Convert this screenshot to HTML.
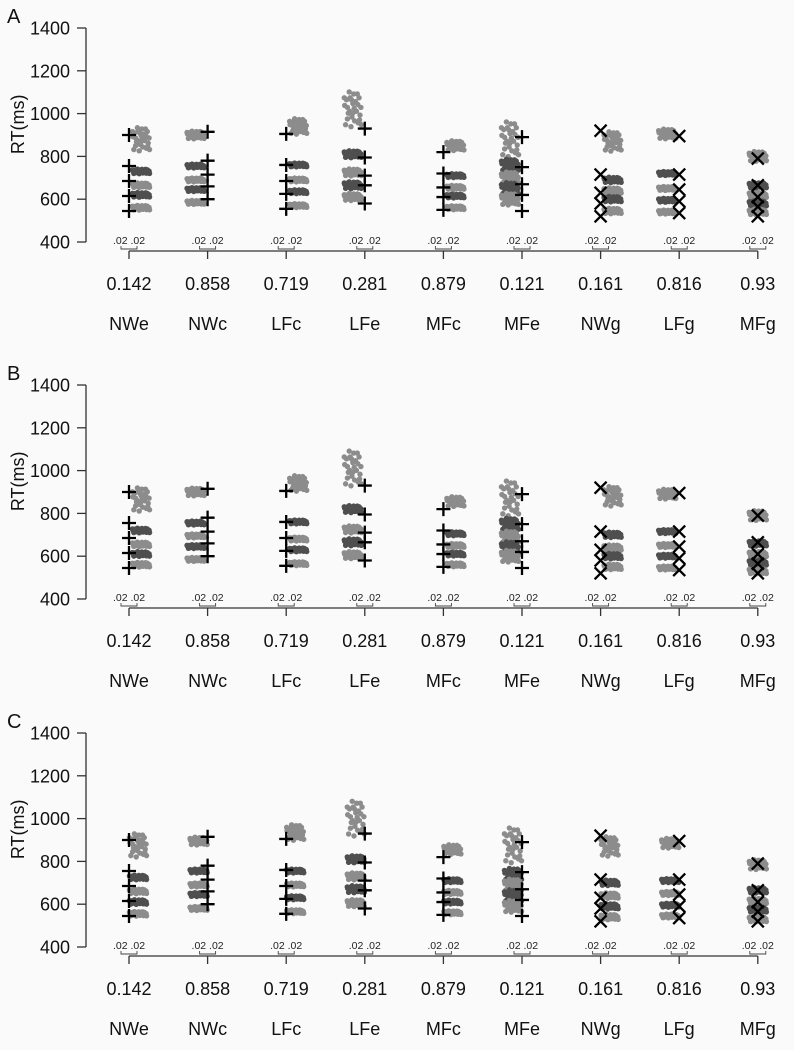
<!DOCTYPE html>
<html><head><meta charset="utf-8"><style>
html,body{margin:0;padding:0;background:#fafafa;}
svg{display:block;font-family:"Liberation Sans",Arial,sans-serif;}
</style></head><body>
<svg id="chart" width="794" height="1050" viewBox="0 0 794 1050" xmlns="http://www.w3.org/2000/svg">
<rect width="794" height="1050" fill="#fafafa"/>
</svg>
<script>
const conditions = ['NWe','NWc','LFc','LFe','MFc','MFe','NWg','LFg','MFg'];
const probs = ['0.142','0.858','0.719','0.281','0.879','0.121','0.161','0.816','0.93'];
const markerKind = ['+','+','+','+','+','+','x','x','x'];
const pointSide = [1,-1,1,-1,1,-1,1,-1,0];
const yTicks = [400,600,800,1000,1200,1400];
const panelLetters = ['A','B','C'];
// observed quantiles (markers)
const markerQ = [
 [900,755,685,615,545],[915,780,715,660,600],[905,760,685,625,555],
 [930,795,710,665,580],[820,720,655,610,550],[890,750,670,620,545],
 [920,715,630,580,520],[895,715,645,590,535],[790,665,610,565,520]];
// simulated quantile bands per panel
const bandsA = [
 [880,730,665,620,560],[900,755,690,645,585],[940,760,690,635,570],
 [1020,810,725,665,610],[850,710,655,615,560],[880,760,700,650,600],
 [870,690,640,600,545],[905,720,650,595,540],[800,665,620,580,540]];
const bandsB = [
 [865,720,655,610,560],[900,755,695,645,585],[940,760,680,630,565],
 [1010,820,725,665,605],[855,705,650,610,560],[870,750,690,640,600],
 [880,700,640,600,550],[890,715,650,600,545],[790,660,610,570,530]];
const bandsC = [
 [875,725,660,610,555],[895,755,690,645,580],[935,755,690,630,565],
 [1000,810,730,670,605],[855,710,655,610,560],[875,740,690,640,590],
 [870,700,640,590,540],[885,710,650,595,545],[785,665,615,575,530]];
const topSpread = [60,20,40,90,25,90,50,25,25];
const midSpread = [12,10,10,18,10,30,14,10,14];

const svg = document.getElementById('chart');
const NS = 'http://www.w3.org/2000/svg';
function mk(tag, attrs, parent){const e=document.createElementNS(NS,tag);for(const k in attrs)e.setAttribute(k,attrs[k]);(parent||svg).appendChild(e);return e;}
const jit = [[-.9,.2],[-.6,-.5],[-.3,.6],[0,-.2],[.3,.4],[.6,-.7],[.9,.1],[-.8,-.8],[-.4,.9],[.1,.8],[.5,.8],[.8,-.3],
 [-.95,.6],[-.2,-.9],[.2,-.6],[.7,.6],[-.6,.1],[.4,-.1],[0,.3],[-.1,-.4],[.95,-.8],[-.5,-.2],
 [-.7,.5],[.15,.05],[.55,.25],[-.35,-.1],[.75,-.55],[-.15,.5]];
const topsY = [28,385,733];
const allBands = [bandsA,bandsB,bandsC];
const sideOff = [12,12,9];

topsY.forEach((top,p)=>{
  const y = v => top + (1400 - v) / 1000 * 214;
  const x = i => 129 + i * 78.6;
  const g = mk('g',{});
  
  
  const L = mk('text',{x:7,y:top-5,'font-size':20,fill:'#111'},g); L.textContent=panelLetters[p];
   
  const ya = mk('line',{x1:86,y1:y(1400),x2:86,y2:y(400),stroke:'#333','stroke-width':1.3},g);
   
  yTicks.forEach(t=>{
    mk('line',{x1:77,y1:y(t),x2:86,y2:y(t),stroke:'#333','stroke-width':1.3},g);
    const tt = mk('text',{x:70,y:y(t)+6.5,'font-size':18,'text-anchor':'end',fill:'#111'},g); tt.textContent=t;
     
  });
  const yt = mk('text',{x:0,y:0,'font-size':18,'text-anchor':'middle',fill:'#111',transform:`translate(24,${y(950)}) rotate(-90)`},g);
  yt.textContent='RT(ms)';  
  const xa = mk('line',{x1:x(0),y1:y(400)+9,x2:x(8),y2:y(400)+9,stroke:'#333','stroke-width':1.3},g);
   
  const bands = allBands[p];
  conditions.forEach((c,i)=>{
    const cx = x(i);
    mk('line',{x1:cx,y1:y(400)+9,x2:cx,y2:y(400)+17,stroke:'#333','stroke-width':1.3},g);
    const sm = mk('text',{x:cx,y:y(400)+2,'font-size':10.5,'text-anchor':'middle',fill:'#222'},g); sm.textContent='.02 .02';
     
    mk('path',{d:`M${cx-8} ${y(400)+4}v3h16v-3`,fill:'none',stroke:'#444','stroke-width':0.9},g);
    const pv = mk('text',{x:cx,y:y(400)+48,'font-size':18,'text-anchor':'middle',fill:'#111'},g); pv.textContent=probs[i];
     
    const cn = mk('text',{x:cx,y:y(400)+88,'font-size':18,'text-anchor':'middle',fill:'#111'},g); cn.textContent=c;
     
    const pcx = cx + pointSide[i]*sideOff[p];
    bands[i].forEach((v,b)=>{
      const col = b%2===0 ? '#8c8c8c' : '#4f4f4f';
      const sp = b===0 ? topSpread[i] : midSpread[i];
      const bg = mk('g',{fill:col},g);
       
      jit.forEach(([dx,dy])=>{
        mk('circle',{cx:pcx+dx*9,cy:y(v+dy*sp),r:2.7},bg);
      });
    });
    markerQ[i].forEach(v=>{
      const my = y(v), s=6;
      let d;
      if(markerKind[i]==='+') d=`M${cx-s-1} ${my}h${2*s+2}M${cx} ${my-s-1}v${2*s+2}`;
      else d=`M${cx-s} ${my-s}L${cx+s} ${my+s}M${cx+s} ${my-s}L${cx-s} ${my+s}`;
      const m = mk('path',{d,stroke:'#000','stroke-width':2.3,fill:'none'},g);
       
    });
  });
});
</script>
</body></html>
